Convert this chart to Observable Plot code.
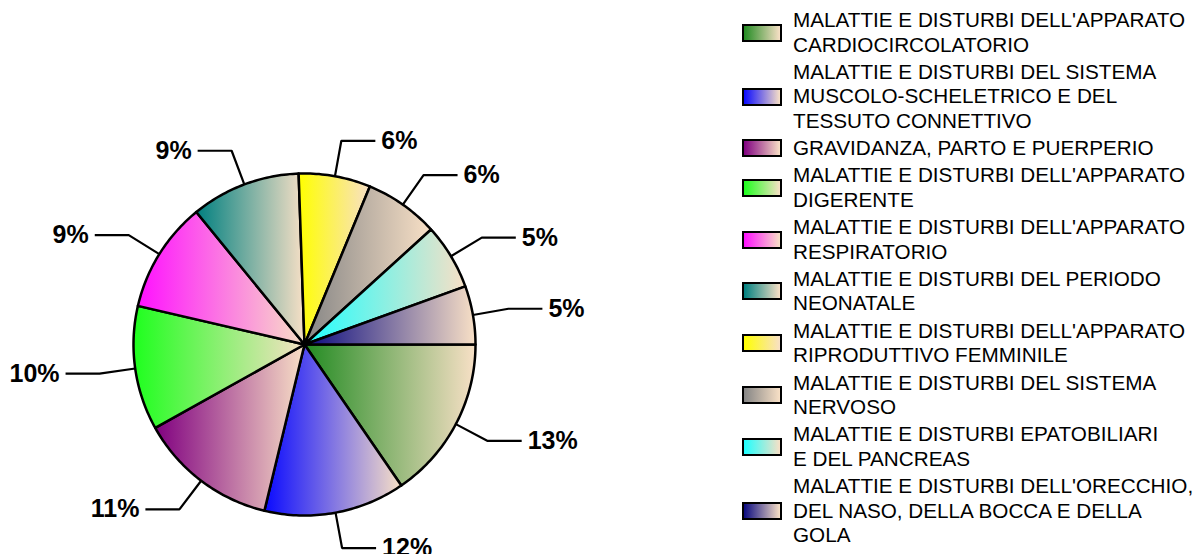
<!DOCTYPE html>
<html>
<head>
<meta charset="utf-8">
<script src="https://cdn.jsdelivr.net/npm/d3@7"></script>
<script src="https://cdn.jsdelivr.net/npm/@observablehq/plot@0.6"></script>
<style>
html, body { margin: 0; padding: 0; background: #fff; }
#wrap { position: relative; width: 1203px; height: 554px; overflow: hidden; font-family: "Liberation Sans", Arial, sans-serif; }
#chart { position: absolute; left: 0; top: 0; }
#legend { position: absolute; left: 742px; top: 8px; }
.item { display: flex; align-items: center; margin-bottom: 2.8px; }
.sw { width: 40px; height: 18px; box-sizing: border-box; border: 2px solid #000; margin-right: 11px; flex: none; }
.lab { font-size: 20.7px; line-height: 24.5px; white-space: pre; color: #000; }
</style>
</head>
<body>
<div id="wrap"><div id="chart"></div><div id="legend"></div></div>
<script>
// ---- data ----
const categories = [
  "MALATTIE E DISTURBI DELL'APPARATO\nCARDIOCIRCOLATORIO",
  "MALATTIE E DISTURBI DEL SISTEMA\nMUSCOLO-SCHELETRICO E DEL\nTESSUTO CONNETTIVO",
  "GRAVIDANZA, PARTO E PUERPERIO",
  "MALATTIE E DISTURBI DELL'APPARATO\nDIGERENTE",
  "MALATTIE E DISTURBI DELL'APPARATO\nRESPIRATORIO",
  "MALATTIE E DISTURBI DEL PERIODO\nNEONATALE",
  "MALATTIE E DISTURBI DELL'APPARATO\nRIPRODUTTIVO FEMMINILE",
  "MALATTIE E DISTURBI DEL SISTEMA\nNERVOSO",
  "MALATTIE E DISTURBI EPATOBILIARI\nE DEL PANCREAS",
  "MALATTIE E DISTURBI DELL'ORECCHIO,\nDEL NASO, DELLA BOCCA E DELLA\nGOLA"
];
const values = [13.4, 11.6, 11.4, 10.2, 9.1, 9.0, 5.9, 6.1, 5.4, 4.8];
const percentLabels = ["13%", "12%", "11%", "10%", "9%", "9%", "6%", "6%", "5%", "5%"];
const startColors = ["#228B22", "#0A0AFF", "#800080", "#1EFF1E", "#FF10FF", "#008080", "#FFFF00", "#858585", "#1EFFFF", "#0A0A80"];
const endColor = "#F8E0C6";

// ---- layout ----
const W = 730, H = 554, CX = 304, CY = 344, R = 171;
const ELBOW = 207 / R, HLEN = 34 / R, GAP = 6 / R;

const total = d3.sum(values);
let acc = 0;
const slices = values.map((v, i) => {
  const a0 = acc / total * 2 * Math.PI;
  acc += v;
  const a1 = acc / total * 2 * Math.PI;
  return {i, a0, a1, mid: (a0 + a1) / 2};
});

const slicePts = slices.map(s => {
  const pts = [{x: 0, y: 0}];
  const n = Math.max(8, Math.ceil((s.a1 - s.a0) / (Math.PI / 180)));
  for (let j = 0; j <= n; j++) {
    const a = s.a0 + (s.a1 - s.a0) * j / n;
    pts.push({x: Math.cos(a), y: Math.sin(a)});
  }
  return pts;
});

const leaderPts = [];
const labelData = [];
slices.forEach(s => {
  const c = Math.cos(s.mid), sn = Math.sin(s.mid);
  const right = c >= 0;
  const ex = ELBOW * c, ey = ELBOW * sn;
  const hx = ex + (right ? HLEN : -HLEN);
  leaderPts.push({k: s.i, x: c, y: sn}, {k: s.i, x: ex, y: ey}, {k: s.i, x: hx, y: ey});
  labelData.push({x: hx + (right ? GAP : -GAP), y: ey, text: percentLabels[s.i], right});
});

const defsMark = () => {
  const defs = d3.create("svg:defs");
  startColors.forEach((c, i) => {
    const g = defs.append("linearGradient").attr("id", "grad" + i)
      .attr("x1", 0).attr("y1", 0).attr("x2", 1).attr("y2", 0);
    g.append("stop").attr("offset", 0).attr("stop-color", c);
    g.append("stop").attr("offset", 1).attr("stop-color", endColor);
  });
  return defs.node();
};

const plot = Plot.plot({
  width: W,
  height: H,
  margin: 0,
  style: {fontFamily: "'Liberation Sans', Arial, sans-serif", background: "#fff"},
  x: {domain: [-CX / R, (W - CX) / R], range: [0, W], axis: null},
  y: {domain: [-CY / R, (H - CY) / R], range: [0, H], axis: null},
  marks: [
    defsMark,
    ...slices.map(s => Plot.line(slicePts[s.i], {
      x: "x", y: "y", fill: `url(#grad${s.i})`, stroke: "#000", strokeWidth: 2.5,
      curve: "linear-closed", strokeLinejoin: "round"
    })),
    Plot.line(leaderPts, {x: "x", y: "y", z: "k", stroke: "#000", strokeWidth: 2.2, strokeLinejoin: "miter", strokeLinecap: "butt"}),
    Plot.text(labelData.filter(d => d.right), {x: "x", y: "y", text: "text", textAnchor: "start", fontSize: 25, fontWeight: "bold", fill: "#000"}),
    Plot.text(labelData.filter(d => !d.right), {x: "x", y: "y", text: "text", textAnchor: "end", fontSize: 25, fontWeight: "bold", fill: "#000"})
  ]
});
document.getElementById("chart").appendChild(plot);

// ---- legend ----
const legend = d3.select("#legend");
categories.forEach((cat, i) => {
  const item = legend.append("div").attr("class", "item");
  item.append("div").attr("class", "sw")
    .style("background", `linear-gradient(to right, ${startColors[i]}, ${endColor})`);
  item.append("div").attr("class", "lab").text(cat);
});
</script>
</body>
</html>
